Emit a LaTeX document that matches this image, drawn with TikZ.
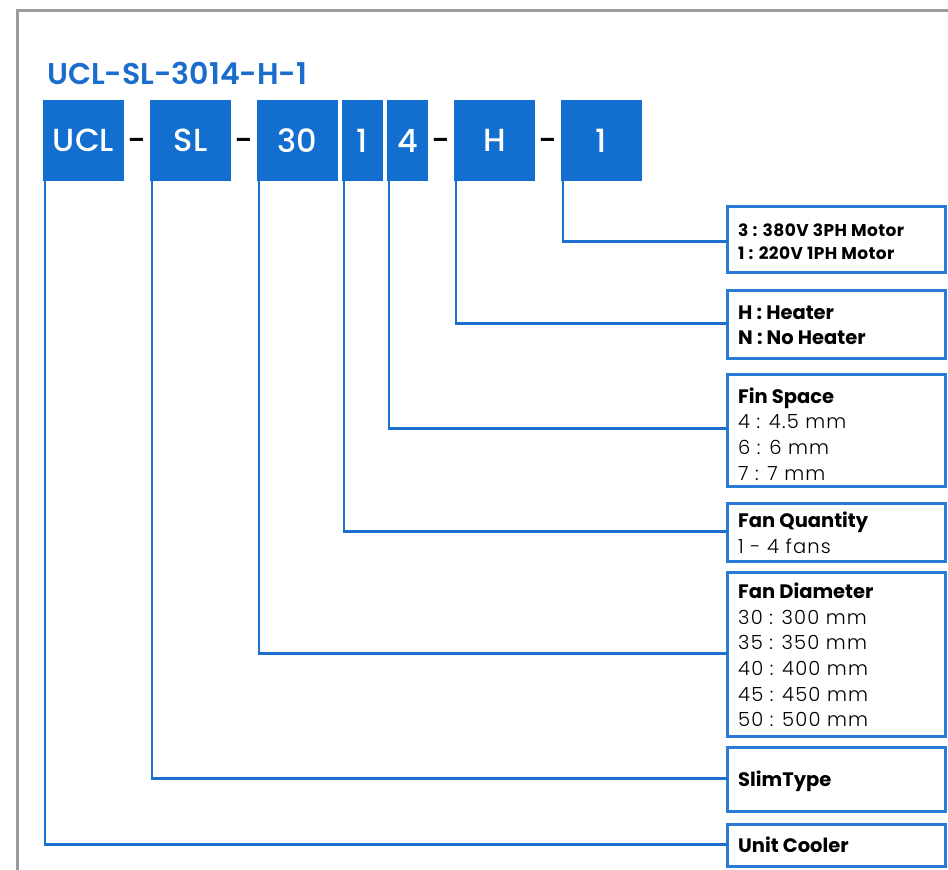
\documentclass[tikz,border=0pt]{standalone}
\usepackage{fontspec}
\setmainfont{Poppins}[BoldFont={* SemiBold}]
\newfontfamily\lightfont{Poppins Light}
\newfontfamily\mediumfont{Poppins Medium}
\newfontfamily\heavyfont{Poppins Bold}
\definecolor{ublue}{HTML}{126ECF}
\definecolor{tblue}{HTML}{1A6DCC}
\definecolor{lblue}{HTML}{1B70D0}
\definecolor{bblue}{HTML}{2A7BD6}
\definecolor{fgray}{HTML}{9B9BA0}
\begin{document}
\begin{tikzpicture}[x=1pt,y=-1pt,
  codebox/.style={fill=ublue, text=white, minimum height=81, inner sep=0pt, outer sep=0pt,
    font=\mediumfont\fontsize{32}{38}\selectfont, anchor=north west},
  wide/.style={codebox, minimum width=81},
  narrow/.style={codebox, minimum width=41},
  dashtxt/.style={inner sep=0pt, anchor=base, font=\mediumfont\fontsize{32}{38}\selectfont, text=black},
  rbox/.style={draw=bblue, line width=2.6pt, minimum width=218, inner sep=0pt, outer sep=0pt, anchor=north west},
  conn/.style={draw=lblue, line width=2.6pt},
  frameline/.style={draw=fgray, line width=2.6pt},
  hdS/.style={inner sep=0pt, anchor=base west, font=\heavyfont\fontsize{17}{20}\selectfont\addfontfeatures{LetterSpace=2.5}},
  hd/.style={inner sep=0pt, anchor=base west, font=\heavyfont\fontsize{19.5}{24}\selectfont},
  rg/.style={inner sep=0pt, anchor=base west, font=\lightfont\fontsize{19.5}{24}\selectfont\addfontfeatures{LetterSpace=6}},
  titletxt/.style={inner sep=0pt, anchor=base west, text=tblue, font=\bfseries\fontsize{30}{36}\selectfont}
]
\useasboundingbox (0,0) rectangle (948,870);

% frame
\draw[frameline] (17.3,870) -- (17.3,10.3) -- (948,10.3);

% title
\node[titletxt] (title) at (47,84) {UCL-SL-3014-H-1};

% code boxes
\node[wide]   (cucl) at (43,100)  {UCL};
\node[wide]   (csl)  at (150,100) {SL};
\node[wide]   (c30)  at (257,100) {30};
\node[narrow] (cfq)  at (342,100) {1};
\node[narrow] (cfs)  at (387,100) {4};
\node[wide]   (ch)   at (454,100) {H};
\node[wide]   (cm)   at (561,100) {1};

% dashes
\node[dashtxt] (d1) at (137,151) {-};
\node[dashtxt] (d2) at (244,151) {-};
\node[dashtxt] (d3) at (441,151) {-};
\node[dashtxt] (d4) at (548,151) {-};

% right boxes
\node[rbox, minimum height=66]  (bm) at (727.5,206.5) {};
\node[rbox, minimum height=68]  (bh) at (727.5,290.5) {};
\node[rbox, minimum height=112] (bf) at (727.5,374.5) {};
\node[rbox, minimum height=58]  (bq) at (727.5,503.5) {};
\node[rbox, minimum height=164] (bd) at (727.5,572.5) {};
\node[rbox, minimum height=64]  (bs) at (727.5,747.5) {};
\node[rbox, minimum height=42]  (bu) at (727.5,824.5) {};

% connectors
\draw[conn] ([xshift=2pt]cm.south west)   |- ([yshift=-2pt]bm.west);
\draw[conn] ([xshift=2pt]ch.south west)   |- ([yshift=1pt]bh.west);
\draw[conn] ([xshift=2pt]cfs.south west)  |- ([yshift=2pt]bf.west);
\draw[conn] ([xshift=2pt]cfq.south west)  |- ([yshift=1pt]bq.west);
\draw[conn] ([xshift=2pt]c30.south west)  |- ([yshift=1pt]bd.west);
\draw[conn] ([xshift=2pt]csl.south west)  |- ([yshift=1pt]bs.west);
\draw[conn] ([xshift=2pt]cucl.south west) |- ([yshift=1pt]bu.west);

% texts
\node[hdS] (tm1) at (738,236) {3 : 380V 3PH Motor};
\node[hdS] (tm2) at (738,259) {1 : 220V 1PH Motor};

\node[hd] (th1) at (738,319) {H : Heater};
\node[hd] (th2) at (738,344) {N : No Heater};

\node[hd] (tf0) at (738,403) {Fin Space};
\node[rg] (tf1) at (738,428) {4 : 4.5 mm};
\node[rg] (tf2) at (738,454) {6 : 6 mm};
\node[rg] (tf3) at (738,480) {7 : 7 mm};

\node[hd] (tq0) at (738,527) {Fan Quantity};
\node[rg] (tq1) at (738,553) {1 - 4 fans};

\node[hd] (td0) at (738,598) {Fan Diameter};
\node[rg] (td1) at (738,624) {30 : 300 mm};
\node[rg] (td2) at (738,649) {35 : 350 mm};
\node[rg] (td3) at (738,675) {40 : 400 mm};
\node[rg] (td4) at (738,701) {45 : 450 mm};
\node[rg] (td5) at (738,726) {50 : 500 mm};

\node[hd] (ts) at (738,786) {SlimType};
\node[hd] (tu) at (738,852) {Unit Cooler};
\end{tikzpicture}
\end{document}
